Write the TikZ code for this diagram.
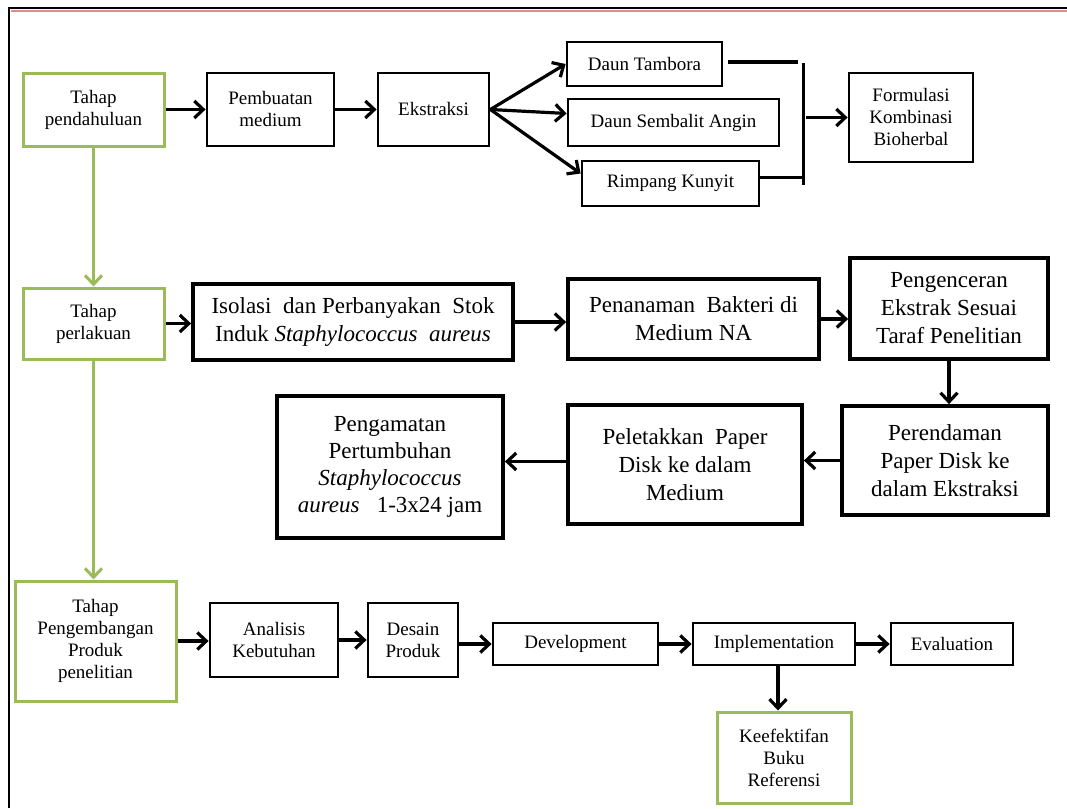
\documentclass[tikz,border=0pt]{standalone}
\usepackage{fontspec}
\setmainfont{Liberation Serif}
\usetikzlibrary{arrows.meta}
\definecolor{boxgreen}{HTML}{9BBB59}
\definecolor{framered}{HTML}{E08A8A}
\tikzset{
  sbox/.style={draw=black, line width=2.8pt, align=center, inner sep=0pt,
    font=\fontsize{19}{22}\selectfont},
  gbox/.style={sbox, draw=boxgreen, line width=3pt},
  mbox/.style={draw=black, line width=3.8pt, align=center, inner sep=0pt,
    font=\fontsize{23}{28}\selectfont},
  arr/.style={line width=3.2pt, -{Straight Barb[length=9pt,width=17pt]}},
  garr/.style={line width=3pt, draw=boxgreen, -{Straight Barb[length=9pt,width=17pt]}},
  pline/.style={line width=3pt},
}
\begin{document}
\begin{tikzpicture}[x=1pt,y=-1pt]
\useasboundingbox (0,0) rectangle (1067,808);
% frame
\draw[line width=2.5pt] (9,808) -- (9,8) -- (1067,8);
\draw[framered, line width=1.5pt] (11,10.8) -- (1067,10.8);

% row 1
\node[gbox, minimum width=141pt, minimum height=73pt] (tp1) at (93.5,109.5) {Tahap\\pendahuluan};
\node[sbox, minimum width=127pt, minimum height=73pt] (pm) at (270.5,109.5) {Pembuatan\\medium};
\node[sbox, minimum width=111pt, minimum height=73pt] (ek) at (433.5,109.5) {Ekstraksi};
\node[sbox, minimum width=155pt, minimum height=44pt] (dt) at (644.5,64) {Daun Tambora};
\node[sbox, minimum width=211pt, minimum height=47pt] (ds) at (673.5,122.5) {Daun Sembalit Angin};
\node[sbox, minimum width=177pt, minimum height=45pt] (rk) at (670.5,183.5) {Rimpang Kunyit};
\node[sbox, minimum width=124pt, minimum height=89pt] (fk) at (911,117.5) {Formulasi\\Kombinasi\\Bioherbal};

% row 2
\node[gbox, minimum width=141pt, minimum height=71pt] (tp2) at (93.5,323.5) {Tahap\\perlakuan};
\node[mbox, minimum width=320pt, minimum height=76pt] (is) at (353,322) {Isolasi\ \ dan Perbanyakan\ \ Stok\\Induk \textit{Staphylococcus\ \ aureus}};
\node[mbox, minimum width=251pt, minimum height=80pt] (pn) at (693.5,319) {Penanaman\ \ Bakteri\ di\\Medium NA};
\node[mbox, minimum width=198pt, minimum height=101pt] (pg) at (949,308.5) {Pengenceran\\Ekstrak Sesuai\\Taraf Penelitian};
\node[mbox, minimum width=206pt, minimum height=109pt] (pr) at (945,460.5) {Perendaman\\Paper Disk ke\\dalam Ekstraksi};
\node[mbox, minimum width=234pt, minimum height=119pt] (pl) at (685,464.5) {Peletakkan\ \ Paper\\Disk ke dalam\\Medium};
\node[mbox, minimum width=226pt, minimum height=142pt, font=\fontsize{23}{27}\selectfont] (pa) at (390,467) {Pengamatan\\Pertumbuhan\\\textit{Staphylococcus}\\\textit{aureus}\ \ \ 1-3x24 jam};

% row 3
\node[gbox, minimum width=161pt, minimum height=120pt] (tp3) at (95.5,641) {Tahap\\Pengembangan\\Produk\\penelitian};
\node[sbox, minimum width=128pt, minimum height=74pt] (an) at (274,640) {Analisis\\Kebutuhan};
\node[sbox, minimum width=90pt, minimum height=74pt] (de) at (413,640) {Desain\\Produk};
\node[sbox, minimum width=165pt, minimum height=42pt] (dv) at (575.5,644) {Development};
\node[sbox, minimum width=162pt, minimum height=42pt] (im) at (774,644) {Implementation};
\node[sbox, minimum width=122pt, minimum height=42pt] (ev) at (952,644) {Evaluation};
\node[gbox, minimum width=134pt, minimum height=91pt] (kb) at (784,757.5) {Keefektifan\\Buku\\Referensi};

% connectors row 1
\draw[arr] (tp1.east) -- (pm.west);
\draw[arr] (pm.east) -- (ek.west);
\draw[arr] (ek.east) -- (dt.west);
\draw[arr] (ek.east) -- ([yshift=9pt]ds.west);
\draw[arr] (ek.east) -- ([yshift=10pt]rk.west);
\coordinate (bt) at (803,63);
\coordinate (bb) at (803,185);
\draw[pline] (bt) -- (bb);
\draw[pline] ([xshift=5pt,yshift=2pt]dt.east) -- ([xshift=-5pt,yshift=2pt]dt.east -| bt);
\draw[pline] ([yshift=6pt]rk.east) -- ([yshift=6pt]rk.east -| bt);
\draw[arr] ([xshift=3pt]bt |- fk.west) -- (fk.west);

% green spine
\draw[garr] (tp1.south) -- (tp2.north);
\draw[garr] (tp2.south) -- (tp2.south |- tp3.north);

% row 2 connectors
\draw[arr] (tp2.east) -- (tp2.east -| is.west);
\draw[arr] (is.east) -- (is.east -| pn.west);
\draw[arr] (pn.east) -- (pn.east -| pg.west);
\draw[arr] (pg.south) -- (pg.south |- pr.north);
\draw[arr] (pr.west) -- (pr.west -| pl.east);
\draw[arr] ([yshift=3pt]pl.west) -- ([yshift=3pt]pl.west -| pa.east);

% row 3 connectors
\draw[arr] (tp3.east) -- (tp3.east -| an.west);
\draw[arr] (an.east) -- (an.east -| de.west);
\draw[arr] (dv.west -| de.east) -- (dv.west);
\draw[arr] (dv.east) -- (im.west);
\draw[arr] (im.east) -- (ev.west);
\draw[arr] ([xshift=4pt]im.south) -- ([xshift=4pt]im.south |- kb.north);
\end{tikzpicture}
\end{document}
